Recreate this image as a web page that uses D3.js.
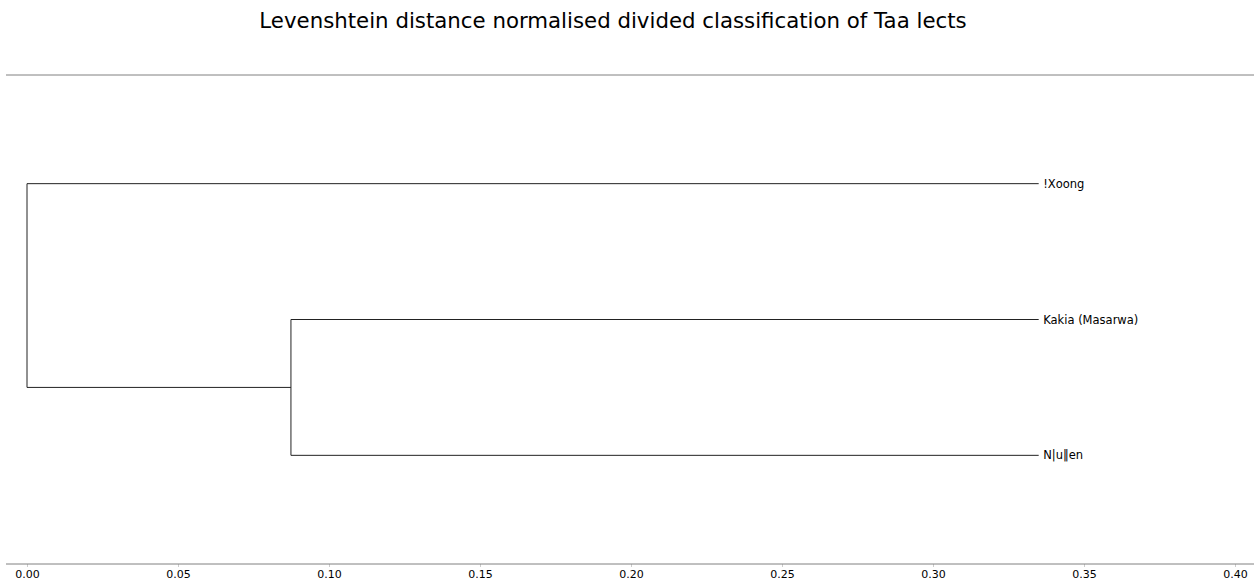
<!DOCTYPE html>
<html>
<head>
<meta charset="utf-8">
<script src="https://cdn.jsdelivr.net/npm/d3@7/dist/d3.min.js"></script>
<style>
  html, body { margin: 0; padding: 0; background: #fff; }
  svg { display: block; }
  text { font-family: "DejaVu Sans", sans-serif; }
</style>
</head>
<body>
<svg id="chart" width="1258" height="583"></svg>
<script>
// ---- data ----
const title = "Levenshtein distance normalised divided classification of Taa lects";
const leafNames = ["!Xoong", "Kakia (Masarwa)", "N|u\u2016en"];
const leafDistance = 0.335;          // where leaves sit on the distance axis
const innerNodeName = "Kakia + N|u\u2016en";
const innerNodeDistance = 0.0874;    // merge of Kakia and N|u‖en
const rootDistance = 0.0;            // root merge
const tickValues = [0.00, 0.05, 0.10, 0.15, 0.20, 0.25, 0.30, 0.35, 0.40];

// ---- tree ----
const treeData = {
  name: "root", dist: rootDistance,
  children: [
    { name: leafNames[0], dist: leafDistance },
    { name: innerNodeName, dist: innerNodeDistance, children: [
      { name: leafNames[1], dist: leafDistance },
      { name: leafNames[2], dist: leafDistance }
    ]}
  ]
};

const W = 1258, H = 583;
const frame = { left: 6, right: 1254, top: 75, bottom: 564 };
const svg = d3.select("#chart");

const x = d3.scaleLinear().domain([0, 0.4]).range([27, 1235]);
const y = d3.scalePoint().domain(leafNames).range([frame.top, frame.bottom]).padding(0.8);

const root = d3.hierarchy(treeData);
root.eachAfter(n => {
  n.px = x(n.data.dist);
  if (!n.children) n.py = y(n.data.name);
  else n.py = d3.mean(n.children, c => c.py);
});

// title
svg.append("text")
  .attr("x", 613).attr("y", 28)
  .attr("text-anchor", "middle")
  .attr("font-size", 21.3)
  .attr("fill", "#000")
  .text(title);

// top spine
svg.append("line")
  .attr("x1", frame.left).attr("x2", frame.right)
  .attr("y1", frame.top).attr("y2", frame.top)
  .attr("stroke", "#808080").attr("stroke-width", 1);

// bottom axis
const axis = d3.axisBottom(x).tickValues(tickValues).tickFormat(d3.format(".2f")).tickSize(3).tickPadding(3);
const gx = svg.append("g").attr("transform", `translate(0,${frame.bottom})`).call(axis);
gx.select(".domain").remove();
gx.selectAll(".tick line").attr("stroke", "#cccccc");
gx.selectAll(".tick text").attr("font-size", 11).attr("fill", "#000").attr("font-family", "DejaVu Sans, sans-serif");
svg.append("line")
  .attr("x1", frame.left).attr("x2", frame.right)
  .attr("y1", frame.bottom).attr("y2", frame.bottom)
  .attr("stroke", "#808080").attr("stroke-width", 1);

// links (elbow)
const links = svg.append("g").attr("fill", "none").attr("stroke", "#222").attr("stroke-width", 1);
root.descendants().filter(n => n.children).forEach(n => {
  const ys = n.children.map(c => c.py);
  links.append("line")
    .attr("x1", n.px).attr("x2", n.px)
    .attr("y1", d3.min(ys)).attr("y2", d3.max(ys));
  n.children.forEach(c => {
    links.append("line")
      .attr("x1", n.px).attr("x2", c.px)
      .attr("y1", c.py).attr("y2", c.py);
  });
});

// leaf labels
svg.append("g").selectAll("text")
  .data(root.leaves())
  .join("text")
  .attr("x", d => d.px + 4.5)
  .attr("y", d => d.py)
  .attr("dy", "0.35em")
  .attr("font-size", 11.5)
  .attr("fill", "#000")
  .text(d => d.data.name);
</script>
</body>
</html>
